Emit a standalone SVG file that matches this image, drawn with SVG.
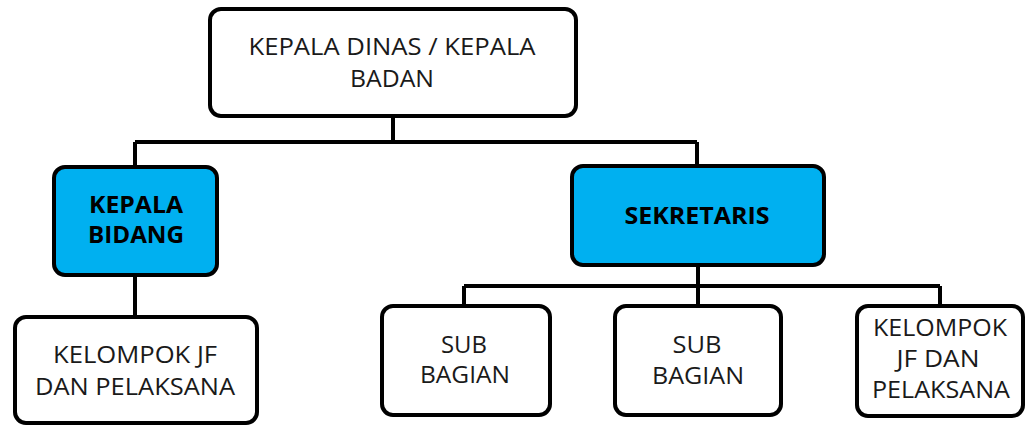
<svg xmlns="http://www.w3.org/2000/svg" width="1030" height="427" viewBox="0 0 1030 427">
<style>
.box{fill:#fff;stroke:#000;stroke-width:4}
.blue{fill:#00B0F0;stroke:#000;stroke-width:4}
.t{font-family:"Open Sans","Liberation Sans",sans-serif;font-size:24px;fill:#1a1a1a;text-anchor:middle}
.b{font-weight:bold;fill:#000}
.c{fill:none;stroke:#000;stroke-width:4}
</style>
<rect width="1030" height="427" fill="#fff"/>
<g id="connectors">
<path class="c" d="M393 118V142M135 142H697M135 142V165M697 142V164"/>
<path class="c" d="M135 277V315"/>
<path class="c" d="M698 267V304M464 286H940M464 286V304M940 286V304"/>
</g>
<g id="kepala-dinas">
<rect class="box" x="210" y="9" width="366" height="107" rx="11"/>
<text class="t" x="392" y="55" textLength="287" lengthAdjust="spacingAndGlyphs">KEPALA DINAS / KEPALA</text>
<text class="t" x="392" y="87" textLength="84" lengthAdjust="spacingAndGlyphs">BADAN</text>
</g>
<g id="kepala-bidang">
<rect class="blue" x="54" y="167" width="163" height="108" rx="11"/>
<text class="t b" x="136" y="213" textLength="94" lengthAdjust="spacingAndGlyphs">KEPALA</text>
<text class="t b" x="136" y="243" textLength="96" lengthAdjust="spacingAndGlyphs">BIDANG</text>
</g>
<g id="kelompok-left">
<rect class="box" x="15" y="317" width="242" height="106" rx="11"/>
<text class="t" x="135" y="363" textLength="164" lengthAdjust="spacingAndGlyphs">KELOMPOK JF</text>
<text class="t" x="135" y="395" textLength="200" lengthAdjust="spacingAndGlyphs">DAN PELAKSANA</text>
</g>
<g id="sekretaris">
<rect class="blue" x="572" y="166" width="252" height="99" rx="11"/>
<text class="t b" x="697" y="224" textLength="145" lengthAdjust="spacingAndGlyphs">SEKRETARIS</text>
</g>
<g id="sub-bagian-1">
<rect class="box" x="382" y="306" width="168" height="109" rx="11"/>
<text class="t" x="464" y="353" textLength="46" lengthAdjust="spacingAndGlyphs">SUB</text>
<text class="t" x="465" y="383" textLength="90" lengthAdjust="spacingAndGlyphs">BAGIAN</text>
</g>
<g id="sub-bagian-2">
<rect class="box" x="615" y="306" width="166" height="109" rx="11"/>
<text class="t" x="697" y="353" textLength="49" lengthAdjust="spacingAndGlyphs">SUB</text>
<text class="t" x="698" y="384" textLength="92" lengthAdjust="spacingAndGlyphs">BAGIAN</text>
</g>
<g id="kelompok-right">
<rect class="box" x="857" y="306" width="166" height="110" rx="11"/>
<text class="t" x="940" y="336" textLength="134" lengthAdjust="spacingAndGlyphs">KELOMPOK</text>
<text class="t" x="938" y="367" textLength="83" lengthAdjust="spacingAndGlyphs">JF DAN</text>
<text class="t" x="941" y="398" textLength="138" lengthAdjust="spacingAndGlyphs">PELAKSANA</text>
</g>
</svg>
